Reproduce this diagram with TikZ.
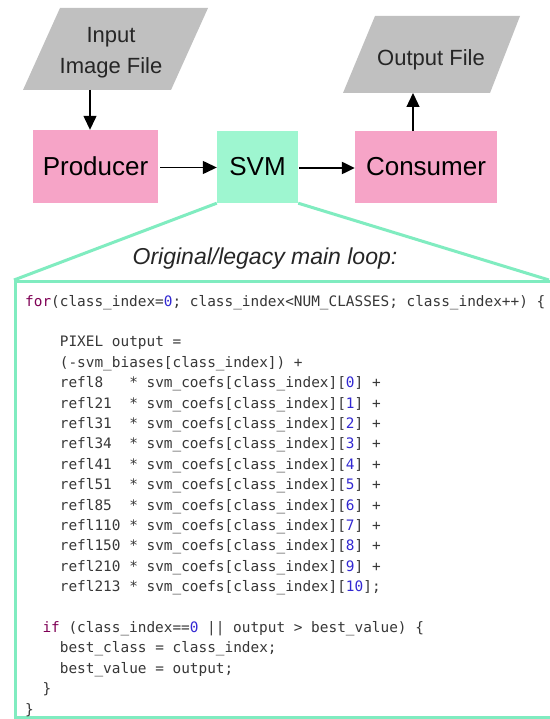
\documentclass[tikz,border=0pt]{standalone}
\usepackage{fontspec}
\setmainfont{Liberation Sans}
\newfontfamily\codefont{DejaVu Sans Mono}
\usetikzlibrary{arrows.meta}
\definecolor{pinkfill}{RGB}{246,164,199}
\definecolor{mintfill}{RGB}{158,246,208}
\definecolor{tealline}{RGB}{128,236,192}
\definecolor{grayfill}{RGB}{192,192,192}
\definecolor{codegray}{RGB}{55,55,55}
\definecolor{kwpurple}{RGB}{127,0,85}
\definecolor{numblue}{RGB}{50,40,210}
\newcommand\ckw[1]{\textcolor{kwpurple}{#1}}
\newcommand\cnum[1]{\textcolor{numblue}{#1}}
\begin{document}
\begin{tikzpicture}[x=1pt,y=-1pt,
  pinkbox/.style={fill=pinkfill, inner sep=0pt, font=\fontsize{26}{30}\selectfont},
  svmbox/.style={fill=mintfill, inner sep=0pt, font=\fontsize{26}{30}\selectfont},
  iofile/.style={fill=grayfill},
  iolabel/.style={align=center, inner sep=0pt, text=black!85, font=\fontsize{22}{31}\selectfont},
  arr/.style={draw=black, line width=1.3pt, -{Triangle[length=14pt,width=13pt]}},
  thickarr/.style={draw=black, line width=2.3pt, -{Triangle[length=13pt,width=12pt]}},
  mintline/.style={draw=tealline, line width=3pt},
  code/.style={anchor=base west, inner sep=0pt, text=codegray, font=\codefont\fontsize{14.4}{20}\selectfont}]
\useasboundingbox (0,0) rectangle (549,719);
\fill[white] (0,0) rectangle (549,719);

% input / output files
\path[iofile] (60,8) -- (208,8) -- (171,90) -- (23,90) -- cycle;
\node[iolabel] (inp) at (111,53) {Input\\Image File};
\path[iofile] (375,16) -- (520,16) -- (490,93) -- (343,93) -- cycle;
\node[iolabel] (outp) at (431,60) {Output File};
\coordinate (inb) at (90,90);
\coordinate (outb) at (413,93);

% code box and fan lines
\node[draw=tealline, line width=3pt, fill=white, anchor=north west, minimum width=560pt, minimum height=436pt, inner sep=0pt] (codebox) at (14,280) {};
\coordinate (boxtr) at (549,280);

% process boxes
\node[pinkbox, minimum width=125pt, minimum height=73pt] (prod) at (95.5,166.5) {Producer};
\node[svmbox, minimum width=81pt, minimum height=72pt] (svm) at (257.5,167) {SVM};
\node[pinkbox, minimum width=142pt, minimum height=72pt] (cons) at (426,167) {Consumer};

\draw[mintline] (svm.south west) -- (codebox.north west);
\draw[mintline] (svm.south east) -- (boxtr);

% connectors
\draw[arr] (inb) -- (inb |- prod.north);
\draw[arr] (prod.east) ++(2,1) coordinate (pe) -- (pe -| svm.west);
\draw[thickarr] (svm.east) ++(1,1) coordinate (se) -- (se -| cons.west);
\draw[arr] (cons.north -| outb) -- (outb);

\node[inner sep=0pt, text=black!85, font=\itshape\fontsize{23}{26}\selectfont] (title) at (265,259) {Original/legacy main loop:};

% code
\node[code] (c0) at (25,306) {\ckw{for}(class\_index=\cnum{0}; class\_index<NUM\_CLASSES; class\_index++) \{};
\node[code] (c2) at (59.7,346.8) {PIXEL output =};
\node[code] (c3) at (59.7,367.2) {(-svm\_biases[class\_index]) +};
\node[code] (c4) at (59.7,387.6) {refl8~~~* svm\_coefs[class\_index][\cnum{0}] +};
\node[code] (c5) at (59.7,408.0) {refl21~~* svm\_coefs[class\_index][\cnum{1}] +};
\node[code] (c6) at (59.7,428.4) {refl31~~* svm\_coefs[class\_index][\cnum{2}] +};
\node[code] (c7) at (59.7,448.8) {refl34~~* svm\_coefs[class\_index][\cnum{3}] +};
\node[code] (c8) at (59.7,469.2) {refl41~~* svm\_coefs[class\_index][\cnum{4}] +};
\node[code] (c9) at (59.7,489.6) {refl51~~* svm\_coefs[class\_index][\cnum{5}] +};
\node[code] (c10) at (59.7,510.0) {refl85~~* svm\_coefs[class\_index][\cnum{6}] +};
\node[code] (c11) at (59.7,530.4) {refl110 * svm\_coefs[class\_index][\cnum{7}] +};
\node[code] (c12) at (59.7,550.8) {refl150 * svm\_coefs[class\_index][\cnum{8}] +};
\node[code] (c13) at (59.7,571.2) {refl210 * svm\_coefs[class\_index][\cnum{9}] +};
\node[code] (c14) at (59.7,591.6) {refl213 * svm\_coefs[class\_index][\cnum{10}];};
\node[code] (c16) at (42.3,632.4) {\ckw{if} (class\_index==\cnum{0} || output > best\_value) \{};
\node[code] (c17) at (59.7,652.8) {best\_class = class\_index;};
\node[code] (c18) at (59.7,673.2) {best\_value = output;};
\node[code] (c19) at (42.3,693.6) {\}};
\node[code] (c20) at (25,714.0) {\}};
\end{tikzpicture}
\end{document}
